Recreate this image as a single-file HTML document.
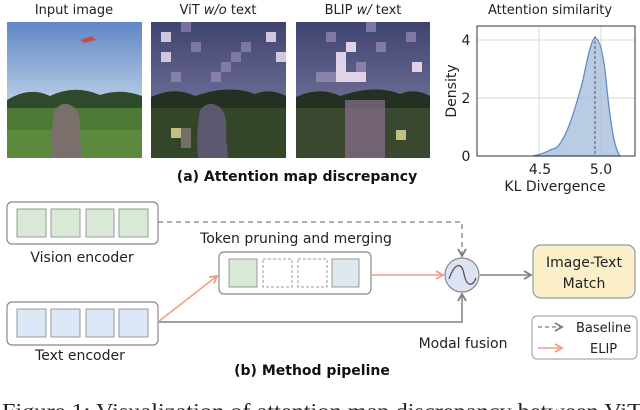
<!DOCTYPE html>
<html><head><meta charset="utf-8"><style>
html,body{margin:0;padding:0;background:#fff;width:640px;height:410px;overflow:hidden}
svg{display:block}
text{font-family:"DejaVu Sans","Liberation Sans",sans-serif}
</style></head><body>
<svg width="640" height="410" viewBox="0 0 640 410" xmlns="http://www.w3.org/2000/svg">
<defs>
<linearGradient id="sky" x1="0" y1="0" x2="0" y2="1"><stop offset="0" stop-color="#5f86c6"/><stop offset="0.6" stop-color="#b9cfe6"/><stop offset="1" stop-color="#dfe6ea"/></linearGradient>
<linearGradient id="skyd" x1="0" y1="0" x2="0" y2="1"><stop offset="0" stop-color="#3e4470"/><stop offset="0.6" stop-color="#6c6c94"/><stop offset="1" stop-color="#857f9c"/></linearGradient>
<marker id="ag" markerWidth="10" markerHeight="10" refX="8" refY="5" orient="auto" markerUnits="userSpaceOnUse"><path d="M1,1 L8,5 L1,9" fill="none" stroke="#808080" stroke-width="1.8"/></marker>
<marker id="ao" markerWidth="10" markerHeight="10" refX="8" refY="5" orient="auto" markerUnits="userSpaceOnUse"><path d="M1,1 L8,5 L1,9" fill="none" stroke="#f59b85" stroke-width="1.8"/></marker>
</defs>
<g font-size="13" fill="#222" text-anchor="middle">
<text x="74" y="14">Input image</text>
<text x="218" y="14">ViT <tspan font-style="italic">w/o</tspan> text</text>
<text x="363" y="14">BLIP <tspan font-style="italic">w/</tspan> text</text>
<text x="550" y="14">Attention similarity</text>
</g>
<rect x="7" y="22" width="135" height="136" fill="url(#sky)"/>
<path d="M7,100 Q30,86 50,96 Q75,84 100,95 Q120,88 142,96 L142,112 L7,112Z" fill="#2f4a2a"/>
<rect x="7" y="108" width="135" height="50" fill="#4f7a35"/>
<rect x="7" y="130" width="135" height="28" fill="#5c8a3c"/>
<path d="M55,110 Q62,100 72,106 Q82,112 80,135 L82,158 L52,158 Q50,130 55,110Z" fill="#7a6f6a"/>
<path d="M80,40 l12,-4 l4,4 l-12,3z" fill="#c74b4b"/>
<rect x="151" y="22" width="135" height="136" fill="url(#skyd)"/>
<path d="M151,97 Q175,86 195,96 Q230,84 255,94 Q270,88 286,96 L286,112 L151,112Z" fill="#233022"/>
<rect x="151" y="108" width="135" height="50" fill="#334628"/>
<path d="M200,110 Q208,100 218,106 Q228,112 226,135 L228,158 L198,158 Q196,130 200,110Z" fill="#5d5870"/>
<g fill="#e8dcef" opacity="0.85">
<rect x="161" y="32" width="10" height="10"/><rect x="161" y="52" width="10" height="10"/><rect x="266" y="32" width="10" height="10"/><rect x="276" y="52" width="10" height="10"/>
</g>
<g fill="#b9a6d0" opacity="0.45">
<rect x="181" y="22" width="10" height="10"/><rect x="221" y="62" width="10" height="10"/><rect x="231" y="52" width="10" height="10"/><rect x="171" y="72" width="10" height="10"/><rect x="211" y="72" width="10" height="10"/><rect x="241" y="42" width="10" height="10"/><rect x="191" y="42" width="10" height="10"/>
</g>
<rect x="171" y="128" width="10" height="10" fill="#e6df9a" opacity="0.8"/>
<rect x="181" y="128" width="10" height="20" fill="#b79aa6" opacity="0.5"/>
<rect x="296" y="22" width="134" height="136" fill="url(#skyd)"/>
<path d="M296,97 Q320,86 340,96 Q375,84 400,94 Q415,88 430,96 L430,112 L296,112Z" fill="#233022"/>
<rect x="296" y="108" width="134" height="50" fill="#3a4830"/>
<rect x="345" y="100" width="40" height="58" fill="#8a6f8e" opacity="0.7"/>
<g fill="#efe0f2" opacity="0.9">
<rect x="336" y="52" width="10" height="30"/><rect x="346" y="72" width="20" height="10"/><rect x="346" y="42" width="10" height="10"/><rect x="412" y="62" width="10" height="10"/>
</g>
<g fill="#b9a6d0" opacity="0.5">
<rect x="326" y="32" width="10" height="10"/><rect x="356" y="62" width="10" height="10"/><rect x="316" y="72" width="20" height="10"/><rect x="376" y="42" width="10" height="10"/><rect x="406" y="32" width="10" height="10"/><rect x="366" y="22" width="10" height="10"/>
</g>
<rect x="396" y="130" width="10" height="10" fill="#e6df9a" opacity="0.8"/>
<g stroke="#d8d8d8" stroke-width="1"><line x1="539" y1="26" x2="539" y2="156"/><line x1="601" y1="26" x2="601" y2="156"/><line x1="477" y1="40" x2="635" y2="40"/><line x1="477" y1="98" x2="635" y2="98"/></g>
<path d="M533,156 C545,154 548,150 556,148 C566,140 575,110 583,80 C588,55 592,38 595,38 C600,38 604,55 607,90 C611,125 614,148 620,156 Z" fill="#a9c0de" opacity="0.8" stroke="#3d6fb6" stroke-width="1.3"/>
<line x1="595" y1="36" x2="595" y2="156" stroke="#555" stroke-dasharray="3,2" stroke-width="1"/>
<rect x="477" y="26" width="158" height="130" fill="none" stroke="#333" stroke-width="1"/>
<g font-size="14" fill="#222" text-anchor="middle">
<text x="466" y="45">4</text><text x="466" y="103">2</text><text x="466" y="161">0</text>
<text x="540" y="174">4.5</text><text x="601" y="174">5.0</text>
<text x="555" y="191">KL Divergence</text>
<text transform="translate(456,91) rotate(-90)">Density</text>
</g>
<text x="297" y="181" font-size="14" font-weight="bold" text-anchor="middle" fill="#111">(a) Attention map discrepancy</text>
<rect x="7" y="202" width="151" height="42" rx="5" fill="#fff" stroke="#888" stroke-width="1.2"/>
<g fill="#d8ead6" stroke="#999"><rect x="17" y="209" width="29" height="28"/><rect x="51" y="209" width="29" height="28"/><rect x="86" y="209" width="28" height="28"/><rect x="119" y="209" width="29" height="28"/></g>
<rect x="7" y="302" width="151" height="43" rx="5" fill="#fff" stroke="#888" stroke-width="1.2"/>
<g fill="#dce8f7" stroke="#999"><rect x="17" y="309" width="29" height="28"/><rect x="51" y="309" width="29" height="28"/><rect x="86" y="309" width="28" height="28"/><rect x="119" y="309" width="29" height="28"/></g>
<rect x="219" y="252" width="152" height="42" rx="5" fill="#fff" stroke="#888" stroke-width="1.2"/>
<rect x="229" y="259" width="28" height="28" fill="#d8ead6" stroke="#999"/>
<rect x="263" y="259" width="29" height="28" fill="none" stroke="#999" stroke-dasharray="3,2"/>
<rect x="298" y="259" width="29" height="28" fill="none" stroke="#999" stroke-dasharray="3,2"/>
<rect x="332" y="259" width="27" height="28" fill="#dde9ec" stroke="#999"/>
<g font-size="14" fill="#222" text-anchor="middle">
<text x="82" y="262">Vision encoder</text>
<text x="80" y="360">Text encoder</text>
<text x="296" y="243">Token pruning and merging</text>
<text x="463" y="348">Modal fusion</text>
</g>
<path d="M158,222 H462 V256" fill="none" stroke="#808080" stroke-width="1.3" stroke-dasharray="5,4" marker-end="url(#ag)"/>
<path d="M158,322 H462 V294" fill="none" stroke="#808080" stroke-width="1.5" marker-end="url(#ag)"/>
<line x1="158" y1="322" x2="217" y2="276" stroke="#f59b85" stroke-width="1.6" marker-end="url(#ao)"/>
<line x1="371" y1="275" x2="443" y2="275" stroke="#f59b85" stroke-width="1.6" marker-end="url(#ao)"/>
<line x1="480" y1="275" x2="531" y2="275" stroke="#808080" stroke-width="1.6" marker-end="url(#ag)"/>
<circle cx="462" cy="275" r="17" fill="#dde3f5" stroke="#888" stroke-width="1.2"/>
<path d="M449,279 C455,262 462,262 464,274 C467,288 473,286 476,278" fill="none" stroke="#555" stroke-width="1.3"/>
<rect x="533" y="245" width="102" height="53" rx="8" fill="#fbefc9" stroke="#999" stroke-width="1.2"/>
<text x="584" y="267" font-size="14" fill="#222" text-anchor="middle">Image-Text</text>
<text x="584" y="288" font-size="14" fill="#222" text-anchor="middle">Match</text>
<rect x="532" y="316" width="105" height="43" rx="5" fill="#fff" stroke="#aaa" stroke-width="1.2"/>
<line x1="538" y1="327" x2="562" y2="327" stroke="#808080" stroke-width="1.3" stroke-dasharray="4,3" marker-end="url(#ag)"/>
<line x1="538" y1="348" x2="562" y2="348" stroke="#f59b85" stroke-width="1.6" marker-end="url(#ao)"/>
<text x="576" y="332" font-size="13" fill="#222">Baseline</text>
<text x="590" y="353" font-size="13" fill="#222">ELIP</text>
<text x="312" y="375" font-size="14" font-weight="bold" text-anchor="middle" fill="#111">(b) Method pipeline</text>
<text x="2" y="418" font-size="21" fill="#222" textLength="640" lengthAdjust="spacingAndGlyphs" style="font-family:'Liberation Serif',serif">Figure 1: Visualization of attention map discrepancy between ViT</text>
</svg>
</body></html>
